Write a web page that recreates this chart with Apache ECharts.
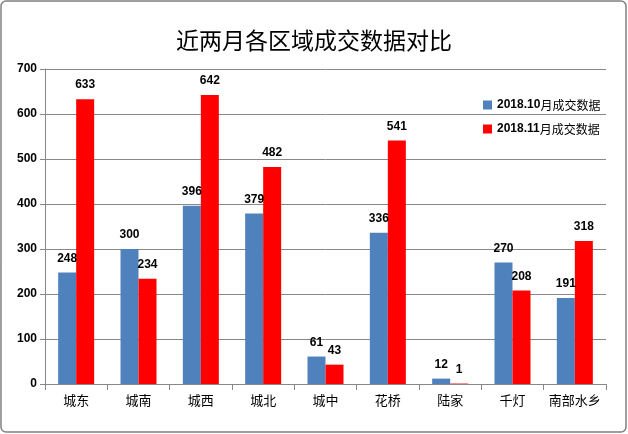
<!DOCTYPE html>
<html><head><meta charset="utf-8">
<script src="https://cdn.jsdelivr.net/npm/echarts@6/dist/echarts.min.js"></script>
<style>html,body{margin:0;padding:0;background:#fff}#c{width:628px;height:434px}</style>
</head><body><div id="c"></div>
<script>
const categories = ['城东','城南','城西','城北','城中','花桥','陆家','千灯','南部水乡'];
const seriesNames = ['2018.10月成交数据','2018.11月成交数据'];
const oct = [248,300,396,379,61,336,12,270,191];
const nov = [633,234,642,482,43,541,1,208,318];
const yTicks = [0,100,200,300,400,500,600,700];

const chart = echarts.init(document.getElementById('c'), null, {renderer:'canvas'});
const labelStyle = {show:true, position:'top', distance:8, color:'#000', fontWeight:'bold', fontSize:12, fontFamily:'Liberation Sans, Arial, sans-serif'};
chart.setOption({
  animation:false,
  backgroundColor:'#fff',
  title:{text:'近两月各区域成交数据对比', left:'center', top:24,
    textStyle:{fontFamily:'Noto Sans CJK SC', fontWeight:'normal', fontSize:23, color:'#000'}},
  graphic:[{type:'rect', shape:{x:1, y:1, width:625, height:431, r:5}, style:{fill:'none', stroke:'#808080', lineWidth:1.5}, z:-1}],
  legend:{orient:'vertical', left:478, top:94, itemWidth:9, itemHeight:9, itemGap:12, icon:'rect',
    data:seriesNames,
    formatter: function(n){ const m = n.match(/^([\d.]+)(.*)$/); return '{b|'+m[1]+'}{n|'+m[2]+'}'; },
    textStyle:{rich:{
      b:{fontWeight:'bold', fontSize:12, fontFamily:'Liberation Sans, Arial', color:'#000'},
      n:{fontSize:12, fontFamily:'Noto Sans CJK SC', color:'#000'}}}},
  grid:{left:45, right:22, top:69, bottom:50},
  xAxis:{type:'category', data:categories,
    axisLine:{lineStyle:{color:'#888', width:1}},
    axisTick:{show:true, interval:0, alignWithLabel:false, length:6, lineStyle:{color:'#888'}},
    axisLabel:{interval:0, color:'#000', fontSize:13, fontFamily:'Noto Sans CJK SC', margin:10}},
  yAxis:{type:'value', min:yTicks[0], max:yTicks[yTicks.length-1], interval:100,
    axisLine:{show:true, lineStyle:{color:'#888'}},
    axisTick:{show:true, length:5, lineStyle:{color:'#888'}},
    splitLine:{lineStyle:{color:'#888', width:1}},
    axisLabel:{color:'#000', fontWeight:'bold', fontSize:12, fontFamily:'Liberation Sans, Arial', margin:8}},
  series:[
    {name:seriesNames[0], type:'bar', data:oct, barWidth:18, barGap:'0%', itemStyle:{color:'#4f81bd'}, label:labelStyle},
    {name:seriesNames[1], type:'bar', data:nov, barWidth:18, barGap:'0%', itemStyle:{color:'#ff0000'}, label:labelStyle}
  ]
});
</script></body></html>
